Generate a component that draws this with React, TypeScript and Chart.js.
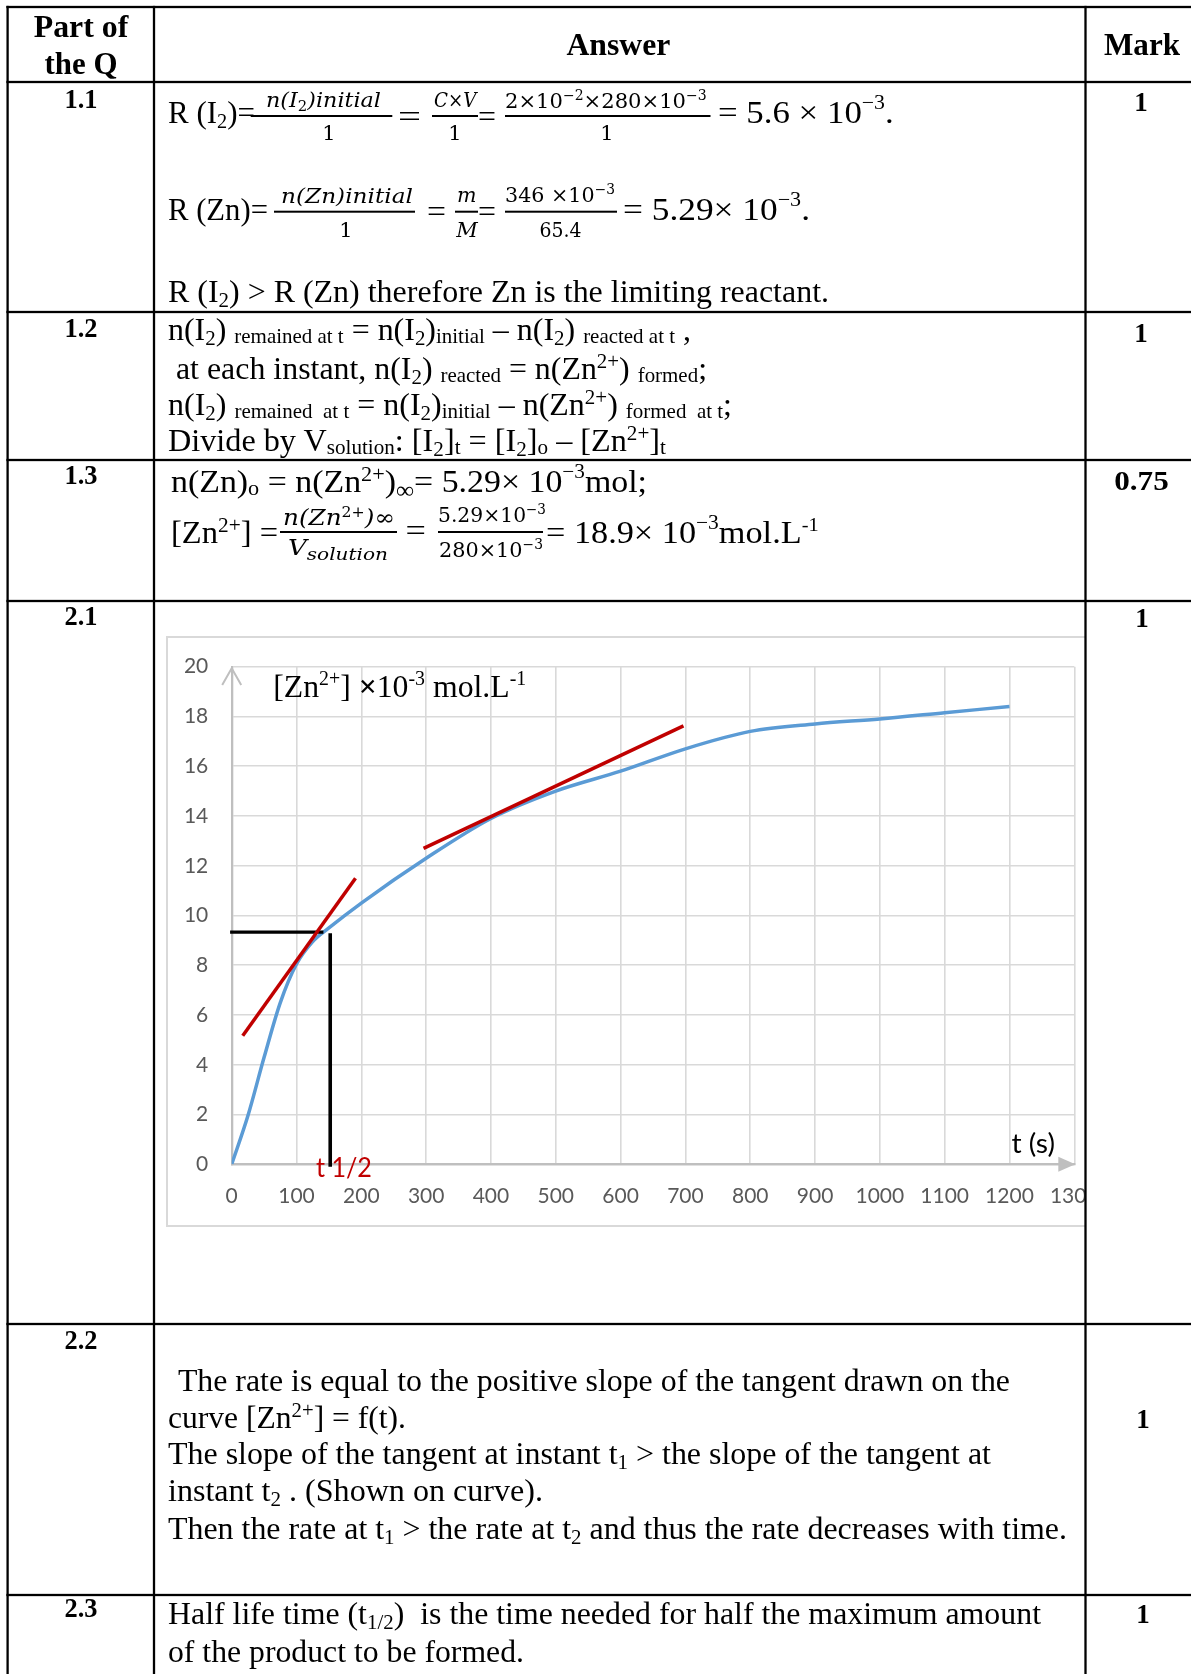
import React, { useEffect, useRef } from "react";
import { Chart, registerables } from "chart.js";

Chart.register(...registerables);

// ---------------- chart data ----------------
const timeS = [0, 25, 50, 75, 100, 125, 150, 200, 300, 400, 500, 600, 700, 800, 900, 1000, 1100, 1200];
const znConc = [0, 1.95, 4.3, 6.5, 8.05, 8.95, 9.5, 10.5, 12.3, 13.9, 15.0, 15.8, 16.7, 17.4, 17.7, 17.9, 18.15, 18.4];
const tangent1T = [17, 191];
const tangent1C = [5.17, 11.5];
const tangent2T = [296, 697];
const tangent2C = [12.7, 17.62];
const halfLifeHT = [-2.5, 141.5];
const halfLifeHC = [9.33, 9.33];
const halfLifeVT = [152, 152];
const halfLifeVC = [9.29, -0.1];
const xTickValues = [0, 100, 200, 300, 400, 500, 600, 700, 800, 900, 1000, 1100, 1200, 1300];
const yTickValues = [0, 2, 4, 6, 8, 10, 12, 14, 16, 18, 20];

const SERIF = "'Liberation Serif', 'Times New Roman', serif";
const MATH = "'DejaVu Serif', 'Liberation Serif', serif";
const SANS = "Lato, 'Open Sans', sans-serif";

type Piece = { t: string; font: string; dy: number };

function drawRich(ctx: CanvasRenderingContext2D, pieces: Piece[], x: number, base: number, target: number, color: string) {
  let total = 0;
  const ws = pieces.map((p) => {
    ctx.font = p.font;
    const w = ctx.measureText(p.t).width;
    total += w;
    return w;
  });
  const k = target / total;
  ctx.save();
  ctx.translate(x, base);
  ctx.scale(k, 1);
  ctx.fillStyle = color;
  ctx.textBaseline = "alphabetic";
  ctx.textAlign = "left";
  let cx = 0;
  pieces.forEach((p, i) => {
    ctx.font = p.font;
    ctx.fillText(p.t, cx, p.dy);
    cx += ws[i];
  });
  ctx.restore();
}

const decorPlugin = {
  id: "decor",
  afterDatasetsDraw(chart: any) {
    const { ctx, scales } = chart;
    const xs = scales.x;
    const ys = scales.y;
    const x0 = xs.getPixelForValue(0);
    const xEnd = xs.getPixelForValue(1300);
    const y0 = ys.getPixelForValue(0);
    const yTop = ys.getPixelForValue(20);
    ctx.save();
    // y axis open arrow head
    ctx.strokeStyle = "#bfbfbf";
    ctx.lineWidth = 2;
    ctx.beginPath();
    ctx.moveTo(x0 - 9.5, yTop + 18.3);
    ctx.lineTo(x0, yTop + 1.6);
    ctx.lineTo(x0 + 9.5, yTop + 18.3);
    ctx.stroke();
    // x axis filled arrow head
    ctx.fillStyle = "#bfbfbf";
    ctx.beginPath();
    ctx.moveTo(xEnd + 1, y0);
    ctx.lineTo(xEnd - 16, y0 - 7.5);
    ctx.lineTo(xEnd - 16, y0 + 7.5);
    ctx.closePath();
    ctx.fill();
    ctx.restore();

    // y axis title
    const tf = "32px " + SERIF;
    const sf = "20px " + SERIF;
    drawRich(
      ctx,
      [
        { t: "[Zn", font: tf, dy: 0 },
        { t: "2+", font: sf, dy: -12 },
        { t: "] ", font: tf, dy: 0 },
        { t: "\u00d7", font: "bold " + tf, dy: 0 },
        { t: "10", font: tf, dy: 0 },
        { t: "-3", font: sf, dy: -12 },
        { t: " mol.L", font: tf, dy: 0 },
        { t: "-1", font: sf, dy: -12 },
      ],
      xs.getPixelForValue(64),
      ys.getPixelForValue(18.8),
      253,
      "#000"
    );
    // half life label
    drawRich(ctx, [{ t: "t 1/2", font: "26px " + SANS, dy: 0 }], xs.getPixelForValue(130), ys.getPixelForValue(-0.5), 56, "#c00000");
    // x axis title
    drawRich(ctx, [{ t: "t (s)", font: "26px " + SANS, dy: 0 }], xs.getPixelForValue(1203), ys.getPixelForValue(0.45), 43.5, "#000");
  },
};

function series(label: string, xs: number[], ys: number[], color: string, width: number, order: number, extra: any = {}) {
  return {
    label,
    data: xs.map((x, i) => ({ x, y: ys[i] })),
    borderColor: color,
    backgroundColor: color,
    borderWidth: width,
    pointRadius: 0,
    fill: false,
    order,
    ...extra,
  };
}

function ChartBox() {
  const ref = useRef<HTMLCanvasElement | null>(null);
  useEffect(() => {
    if (!ref.current) return;
    const tickFont = { family: SANS, size: 21 };
    const chart = new Chart(ref.current, {
      type: "line",
      data: {
        datasets: [
          series("[Zn2+]", timeS, znConc, "#5b9bd5", 3.5, 2, { cubicInterpolationMode: "monotone" }),
          series("tangent at t1", tangent1T, tangent1C, "#c00000", 3.5, 0),
          series("tangent at t2", tangent2T, tangent2C, "#c00000", 3.5, 0),
          series("half-life level", halfLifeHT, halfLifeHC, "#000000", 3.2, 1, { clip: false }),
          series("t1/2", halfLifeVT, halfLifeVC, "#000000", 3.6, 1, { clip: false }),
        ],
      } as any,
      options: {
        animation: false,
        responsive: false,
        events: [],
        layout: { padding: { top: 28.7, right: 49.7, left: 0, bottom: 0 } },
        plugins: { legend: { display: false }, tooltip: { enabled: false } },
        scales: {
          x: {
            type: "linear",
            min: 0,
            max: 1300,
            afterBuildTicks: (s: any) => {
              s.ticks = xTickValues.map((v) => ({ value: v }));
            },
            afterFit: (s: any) => {
              s.height = 60.7;
            },
            grid: { color: "#d9d9d9", lineWidth: 1.6, drawTicks: false },
            border: { color: "#bfbfbf", width: 2.3 },
            ticks: {
              color: "#595959",
              font: tickFont,
              padding: 19,
              maxRotation: 0,
              autoSkip: false,
              callback: (v: any) => String(v),
            },
          },
          y: {
            type: "linear",
            min: 0,
            max: 20,
            afterBuildTicks: (s: any) => {
              s.ticks = yTickValues.map((v) => ({ value: v }));
            },
            afterFit: (s: any) => {
              s.width = 63.7;
            },
            grid: { color: "#d9d9d9", lineWidth: 1.6, drawTicks: true, tickLength: 8, tickColor: "rgba(0,0,0,0)" },
            border: { color: "#bfbfbf", width: 2.3 },
            ticks: {
              color: "#595959",
              font: tickFont,
              padding: 15.4,
              autoSkip: false,
              callback: (v: any) => String(v),
            },
          },
        },
      } as any,
      plugins: [decorPlugin],
    });
    return () => chart.destroy();
  }, []);
  return <canvas ref={ref} width={956} height={587} style={{ display: "block", width: 956, height: 587 }} />;
}

// ---------------- table text helpers ----------------
type Seg = { t: string; s?: number; d?: number; i?: boolean; f?: string };
const N = (t: string): Seg => ({ t });
const IT = (t: string): Seg => ({ t, i: true });
const SB = (t: string, s = 21, d = 5): Seg => ({ t, s, d });
const SP = (t: string, s = 21, d = -11): Seg => ({ t, s, d });
const SM = (t: string): Seg => ({ t, s: 21, d: 3 });

function Txt(props: {
  x: number;
  y: number;
  w?: number;
  size?: number;
  segs: Seg[];
  anchor?: string;
  bold?: boolean;
  family?: string;
}) {
  const { x, y, w, size = 32, segs, anchor = "start", bold = false, family = SERIF } = props;
  let cur = 0;
  const kids = segs.map((g, k) => {
    const d = g.d ?? 0;
    const dy = d - cur;
    cur = d;
    return (
      <tspan key={k} dy={dy !== 0 ? dy : undefined} fontSize={g.s} fontStyle={g.i ? "italic" : undefined} fontFamily={g.f}>
        {g.t}
      </tspan>
    );
  });
  const extra: any = w ? { textLength: w, lengthAdjust: "spacingAndGlyphs" } : {};
  return (
    <text
      x={x}
      y={y}
      fontSize={size}
      fontFamily={family}
      fontWeight={bold ? 700 : 400}
      textAnchor={anchor as any}
      fill="#000"
      style={{ whiteSpace: "pre" }}
      {...extra}
    >
      {kids}
    </text>
  );
}

function Frac(props: {
  x1: number;
  x2: number;
  bar: number;
  num: Seg[];
  numX: number;
  numW: number;
  numY: number;
  den: Seg[];
  denC: number;
  denW?: number;
  denY: number;
  size?: number;
}) {
  const { x1, x2, bar, num, numX, numW, numY, den, denC, denW, denY, size = 21 } = props;
  return (
    <g>
      <Txt x={numX} y={numY} w={numW} size={size} segs={num} family={MATH} />
      <rect x={x1} y={bar - 1} width={x2 - x1} height={2} fill="#000" />
      <Txt x={denC} y={denY} w={denW} size={size} segs={den} family={MATH} anchor="middle" />
    </g>
  );
}

const Label = ({ x, y, t, w, size = 27 }: { x: number; y: number; t: string; w?: number; size?: number }) => (
  <Txt x={x} y={y} w={w} size={size} segs={[N(t)]} anchor="middle" bold />
);

function TableOverlay() {
  const hLines = [7, 82, 312, 460, 601, 1324, 1595];
  const vLines = [7.6, 154, 1085.5];
  return (
    <svg
      width={1191}
      height={1674}
      style={{ position: "absolute", left: 0, top: 0, pointerEvents: "none" }}
      xmlns="http://www.w3.org/2000/svg"
    >
      {hLines.map((y) => (
        <rect key={"h" + y} x={6.4} y={y - 1.15} width={1200} height={2.3} fill="#000" />
      ))}
      {vLines.map((x) => (
        <rect key={"v" + x} x={x - 1.15} y={5.85} width={2.3} height={1680} fill="#000" />
      ))}

      {/* header */}
      <Txt x={81} y={37} w={94.5} size={32} segs={[N("Part of")]} anchor="middle" bold />
      <Txt x={81} y={73.5} w={73} size={32} segs={[N("the Q")]} anchor="middle" bold />
      <Txt x={618.4} y={55} w={104} size={32} segs={[N("Answer")]} anchor="middle" bold />
      <Txt x={1142} y={55} w={76} size={32} segs={[N("Mark")]} anchor="middle" bold />

      {/* part labels */}
      <Label x={81} y={108} t="1.1" w={33} />
      <Label x={81} y={337} t="1.2" w={33} />
      <Label x={81} y={484} t="1.3" w={33} />
      <Label x={81} y={625} t="2.1" w={33} />
      <Label x={81} y={1349} t="2.2" w={33} />
      <Label x={81} y={1617} t="2.3" w={33} />

      {/* marks */}
      <Label x={1141} y={111} t="1" />
      <Label x={1141} y={341.5} t="1" />
      <Label x={1141.5} y={490} t="0.75" w={54.5} size={28} />
      <Label x={1142} y={627} t="1" />
      <Label x={1143} y={1428} t="1" />
      <Label x={1143} y={1623} t="1" />

      {/* 1.1 line 1 */}
      <Txt x={168} y={123.3} w={87} segs={[N("R (I"), SB("2"), N(")=")]} />
      <Frac x1={250.7} x2={392.3} bar={116} num={[IT("n(I"), SB("2", 14, 4), IT(")initial")]} numX={266} numW={115} numY={106.7} den={[N("1")]} denC={329} denY={140} />
      <Txt x={398} y={127} w={23} segs={[N("=")]} />
      <Frac x1={432} x2={478} bar={116} num={[IT("C"), N("\u00d7"), IT("V")]} numX={434} numW={42.5} numY={106.7} den={[N("1")]} denC={455} denY={140} />
      <Txt x={478} y={127} w={18} segs={[N("=")]} />
      <Frac
        x1={505}
        x2={710.5}
        bar={116}
        num={[N("2\u00d710"), SP("\u22122", 14, -8), N("\u00d7280\u00d710"), SP("\u22123", 14, -8)]}
        numX={505}
        numW={201.7}
        numY={107.5}
        den={[N("1")]}
        denC={607}
        denY={140}
      />
      <Txt x={718} y={123.3} w={175.7} segs={[N("= 5.6 \u00d7 10"), SP("\u22123", 20, -14), N(".")]} />

      {/* 1.1 line 2 */}
      <Txt x={168} y={220} w={100} segs={[N("R (Zn)=")]} />
      <Frac x1={274} x2={415} bar={211.7} num={[IT("n(Zn)initial")]} numX={281} numW={132} numY={203} den={[N("1")]} denC={346} denY={237} />
      <Txt x={427} y={222} w={19} segs={[N("=")]} />
      <Frac x1={455} x2={478} bar={211.7} num={[IT("m")]} numX={457} numW={19.5} numY={202} den={[IT("M")]} denC={467} denY={237} />
      <Txt x={478} y={222} w={18} segs={[N("=")]} />
      <Frac
        x1={505}
        x2={617}
        bar={211.7}
        num={[N("346 \u00d710"), SP("\u22123", 14, -8)]}
        numX={505}
        numW={110}
        numY={202}
        den={[N("65.4")]}
        denC={560.6}
        denW={42}
        denY={237}
      />
      <Txt x={623} y={220} w={187} segs={[N("= 5.29\u00d7 10"), SP("\u22123", 20, -14), N(".")]} />

      {/* 1.1 line 3 */}
      <Txt x={168} y={301.7} w={661} segs={[N("R (I"), SB("2"), N(") > R (Zn) therefore Zn is the limiting reactant.")]} />

      {/* 1.2 */}
      <Txt
        x={168}
        y={340}
        w={523}
        segs={[N("n(I"), SB("2"), N(") "), SM("remained at t"), N(" = n(I"), SB("2"), N(")"), SM("initial"), N(" \u2013 n(I"), SB("2"), N(") "), SM("reacted at t"), N(" ,")]}
      />
      <Txt
        x={168}
        y={379}
        w={539}
        segs={[N(" at each instant, n(I"), SB("2"), N(") "), SM("reacted"), N(" = n(Zn"), SP("2+"), N(") "), SM("formed"), N(";")]}
      />
      <Txt
        x={168}
        y={415}
        w={564}
        segs={[N("n(I"), SB("2"), N(") "), SM("remained  at t"), N(" = n(I"), SB("2"), N(")"), SM("initial"), N(" \u2013 n(Zn"), SP("2+"), N(") "), SM("formed  at t"), N(";")]}
      />
      <Txt
        x={168}
        y={451}
        w={498}
        segs={[N("Divide by V"), SM("solution"), N(": [I"), SB("2"), N("]"), SM("t"), N(" = [I"), SB("2"), N("]"), SM("o"), N(" \u2013 [Zn"), SP("2+"), N("]"), SM("t")]}
      />

      {/* 1.3 */}
      <Txt
        x={171}
        y={492}
        w={476}
        segs={[N("n(Zn)"), SM("o"), N(" = n(Zn"), SP("2+"), N(")"), SB("\u221e", 24, 6), N("= 5.29\u00d7 10"), SP("\u22123", 20, -14), N("mol;")]}
      />
      <Txt x={171} y={543} w={107} segs={[N("[Zn"), SP("2+"), N("] =")]} />
      <Frac
        x1={280}
        x2={397}
        bar={532}
        num={[IT("n(Zn"), SP("2+", 14, -8), IT(")"), SP("", 14, 0), N("\u221e")]}
        numX={283}
        numW={112}
        numY={525}
        size={22}
        den={[IT("V"), { t: "solution", s: 17, d: 5, i: true }]}
        denC={338}
        denW={100}
        denY={555}
      />
      <Txt x={405.6} y={541} w={20.4} segs={[N("=")]} />
      <Frac
        x1={438}
        x2={543}
        bar={532}
        num={[N("5.29\u00d710"), SP("\u22123", 14, -8)]}
        numX={438}
        numW={108}
        numY={522}
        den={[N("280\u00d710"), SP("\u22123", 14, -8)]}
        denC={491}
        denW={104}
        denY={557}
      />
      <Txt x={546} y={543} w={272.6} segs={[N("= 18.9\u00d7 10"), SP("\u22123", 20, -14), N("mol.L"), SP("-1", 19, -12)]} />

      {/* 2.2 */}
      <Txt x={170.5} y={1391} w={839.5} segs={[N(" The rate is equal to the positive slope of the tangent drawn on the")]} />
      <Txt x={168} y={1428} w={238} segs={[N("curve [Zn"), SP("2+"), N("] = f(t).")]} />
      <Txt x={168} y={1464} w={823} segs={[N("The slope of the tangent at instant t"), SB("1"), N(" > the slope of the tangent at")]} />
      <Txt x={168} y={1501} w={375} segs={[N("instant t"), SB("2"), N(" . (Shown on curve).")]} />
      <Txt
        x={168}
        y={1539}
        w={899}
        segs={[N("Then the rate at t"), SB("1"), N(" > the rate at t"), SB("2"), N(" and thus the rate decreases with time.")]}
      />

      {/* 2.3 */}
      <Txt x={168} y={1624} w={873} segs={[N("Half life time (t"), SB("1/2"), N(")  is the time needed for half the maximum amount")]} />
      <Txt x={168} y={1662} w={356} segs={[N("of the product to be formed.")]} />
    </svg>
  );
}

export default function App() {
  return (
    <div style={{ position: "absolute", left: 0, top: 0, width: 1191, height: 1674, overflow: "hidden", background: "#fff" }}>
      {/* clip region = answer cell of 2.1 */}
      <div style={{ position: "absolute", left: 155, top: 602, width: 930, height: 720, overflow: "hidden" }}>
        <div
          style={{
            position: "absolute",
            left: 11,
            top: 34,
            width: 960,
            height: 591,
            border: "2px solid #d9d9d9",
            boxSizing: "border-box",
            background: "#fff",
          }}
        >
          <ChartBox />
        </div>
      </div>
      <TableOverlay />
    </div>
  );
}
